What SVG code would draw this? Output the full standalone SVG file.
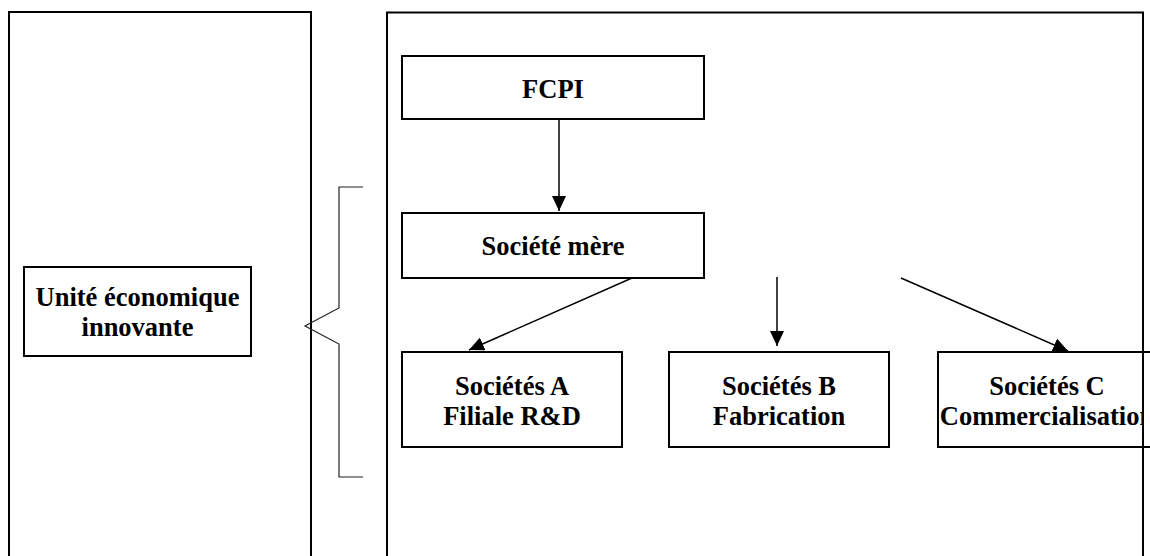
<svg xmlns="http://www.w3.org/2000/svg" width="1150" height="556" viewBox="0 0 1150 556">
<style>
.box{fill:#fff;stroke:#000;stroke-width:2}
.frame{fill:none;stroke:#000;stroke-width:2}
.lbl{font-family:"Liberation Serif","Times New Roman",serif;font-weight:bold;font-size:26.5px;fill:#000;text-anchor:middle}
.conn{stroke:#000;stroke-width:1.5;fill:none}
.brace{stroke:#222;stroke-width:1.2;fill:none}
</style>
<defs>
<marker id="ah" markerUnits="userSpaceOnUse" markerWidth="16" markerHeight="14" viewBox="0 0 16 14" refX="15" refY="7" orient="auto">
<path d="M0,0 L15,7 L0,14 Z" fill="#000"/>
</marker>
<clipPath id="clipC"><rect x="930" y="340" width="212" height="120"/></clipPath>
</defs>
<rect id="frame-left" class="frame" x="9" y="12" width="302" height="600"/>
<rect id="frame-right" class="frame" x="387" y="12.5" width="756" height="600"/>
<g id="brace">
<path class="brace" d="M363,187 H339 V308 L305,326 L339,344 V477 H363"/>
</g>
<g id="node-unite">
<rect class="box" x="24" y="267" width="227" height="89"/>
<text class="lbl" x="137.5" y="306">Unité économique</text>
<text class="lbl" x="137.5" y="336">innovante</text>
</g>
<g id="node-fcpi">
<rect class="box" x="402" y="56" width="302" height="63"/>
<text class="lbl" x="553" y="98">FCPI</text>
</g>
<g id="node-mere">
<rect class="box" x="402" y="213" width="302" height="65"/>
<text class="lbl" x="553" y="255">Société mère</text>
</g>
<g id="node-a">
<rect class="box" x="402" y="352" width="220" height="95"/>
<text class="lbl" x="512" y="395">Sociétés A</text>
<text class="lbl" x="512" y="425">Filiale R&amp;D</text>
</g>
<g id="node-b">
<rect class="box" x="669" y="352" width="220" height="95"/>
<text class="lbl" x="779" y="395">Sociétés B</text>
<text class="lbl" x="779" y="425">Fabrication</text>
</g>
<g id="node-c">
<rect class="box" x="938" y="352" width="230" height="95"/>
<g clip-path="url(#clipC)">
<text class="lbl" x="1047" y="395">Sociétés C</text>
<text class="lbl" x="1047" y="425">Commercialisation</text>
</g>
</g>
<line x1="1143" y1="12.5" x2="1143" y2="556" stroke="#000" stroke-width="2"/>
<g id="connectors">
<line class="conn" x1="559" y1="119" x2="559" y2="211" marker-end="url(#ah)"/>
<line class="conn" x1="632" y1="278" x2="469" y2="350" marker-end="url(#ah)"/>
<line class="conn" x1="777" y1="277" x2="777" y2="346" marker-end="url(#ah)"/>
<line class="conn" x1="901" y1="278" x2="1068" y2="351" marker-end="url(#ah)"/>
</g>
</svg>
